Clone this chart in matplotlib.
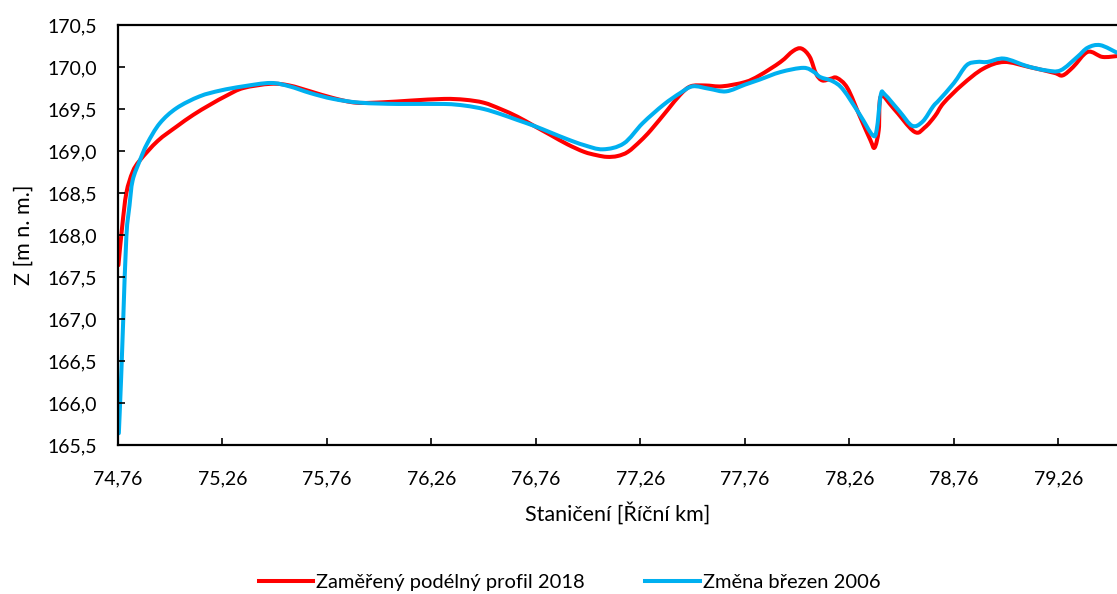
import matplotlib

matplotlib.use("Agg")

import matplotlib.pyplot as plt
from matplotlib.lines import Line2D
from matplotlib.patches import PathPatch
from matplotlib.path import Path
from matplotlib.ticker import FixedLocator, FuncFormatter

plt.rcParams["font.family"] = ["Lato", "DejaVu Sans"]

# river stationing [km] and bed elevation [m n. m.]
km_2018 = [74.762, 74.78, 74.80, 74.83, 74.865, 74.95, 75.04, 75.12, 75.20, 75.28, 75.36, 75.49,
           75.58, 75.68, 75.79, 75.90, 76.03, 76.16, 76.32, 76.42, 76.51, 76.59, 76.67, 76.75,
           76.83, 76.91, 76.99, 77.05, 77.10, 77.15, 77.20, 77.26, 77.31, 77.39, 77.45, 77.50,
           77.57, 77.65, 77.76, 77.83, 77.93, 77.99, 78.03, 78.07, 78.10, 78.13, 78.17, 78.20,
           78.25, 78.31, 78.36, 78.38, 78.40, 78.41, 78.47, 78.57, 78.62, 78.67, 78.71, 78.80,
           78.90, 79.00, 79.12, 79.24, 79.28, 79.33, 79.40, 79.47, 79.54]
z_2018 = [167.64, 168.10, 168.50, 168.75, 168.89, 169.12, 169.29, 169.43, 169.55, 169.66, 169.75, 169.80,
          169.78, 169.71, 169.63, 169.575, 169.58, 169.60, 169.62, 169.61, 169.575, 169.50, 169.41, 169.30,
          169.19, 169.08, 168.99, 168.95, 168.93, 168.94, 168.99, 169.12, 169.25, 169.49, 169.67, 169.77,
          169.78, 169.77, 169.82, 169.90, 170.06, 170.19, 170.22, 170.12, 169.92, 169.84, 169.86, 169.87,
          169.75, 169.41, 169.13, 169.04, 169.25, 169.65, 169.51, 169.23, 169.28, 169.42, 169.57, 169.79,
          169.98, 170.06, 170.00, 169.93, 169.90, 170.00, 170.18, 170.12, 170.13]

km_2006 = [74.764, 74.775, 74.785, 74.80, 74.815, 74.83, 74.865, 74.90, 74.96, 75.04, 75.15, 75.25,
           75.36, 75.49, 75.58, 75.68, 75.79, 75.92, 76.10, 76.32, 76.42, 76.51, 76.59, 76.67,
           76.75, 76.83, 76.91, 76.99, 77.08, 77.18, 77.27, 77.37, 77.45, 77.51, 77.59, 77.67,
           77.76, 77.83, 77.93, 78.04, 78.09, 78.12, 78.18, 78.23, 78.31, 78.37, 78.39, 78.41,
           78.43, 78.50, 78.56, 78.61, 78.66, 78.69, 78.76, 78.82, 78.87, 78.92, 79.00, 79.11,
           79.20, 79.27, 79.35, 79.40, 79.46, 79.54]
z_2006 = [165.64, 166.30, 166.99, 167.98, 168.35, 168.65, 168.89, 169.09, 169.33, 169.51, 169.65, 169.72,
          169.77, 169.81, 169.77, 169.69, 169.62, 169.575, 169.56, 169.56, 169.54, 169.50, 169.44, 169.37,
          169.30, 169.22, 169.14, 169.07, 169.02, 169.09, 169.33, 169.55, 169.69, 169.77, 169.74, 169.71,
          169.79, 169.85, 169.94, 169.99, 169.94, 169.88, 169.83, 169.73, 169.43, 169.19, 169.25, 169.67,
          169.67, 169.47, 169.30, 169.35, 169.53, 169.61, 169.81, 170.02, 170.06, 170.06, 170.10, 170.01,
          169.96, 169.96, 170.12, 170.23, 170.26, 170.17]

x_ticks = [74.76, 75.26, 75.76, 76.26, 76.76, 77.26, 77.76, 78.26, 78.76, 79.26]
y_ticks = [165.5, 166.0, 166.5, 167.0, 167.5, 168.0, 168.5, 169.0, 169.5, 170.0, 170.5]

RED = "#FF0000"
BLUE = "#00B0F0"
LW = 2.9


def smooth_path(xs, ys):
    """Bezier path through the points, like a spreadsheet 'smoothed line'."""
    pts = list(zip(xs, ys))
    verts = [pts[0]]
    codes = [Path.MOVETO]
    n = len(pts)
    for i in range(n - 1):
        p0 = pts[max(i - 1, 0)]
        p1 = pts[i]
        p2 = pts[i + 1]
        p3 = pts[min(i + 2, n - 1)]
        c1 = (p1[0] + (p2[0] - p0[0]) / 6, p1[1] + (p2[1] - p0[1]) / 6)
        c2 = (p2[0] - (p3[0] - p1[0]) / 6, p2[1] - (p3[1] - p1[1]) / 6)
        verts += [c1, c2, p2]
        codes += [Path.CURVE4] * 3
    return Path(verts, codes)


fig = plt.figure(figsize=(11.17, 5.94), dpi=100)
ax = fig.add_axes([118 / 1117, 1 - 445 / 594, 1 - 118 / 1117, (445 - 25) / 594])

for xs, ys, color in ((km_2018, z_2018, RED), (km_2006, z_2006, BLUE)):
    ax.add_patch(PathPatch(smooth_path(xs, ys), facecolor="none", edgecolor=color, lw=LW,
                           joinstyle="round", capstyle="round", clip_on=True))

ax.set_xlim(74.76, 79.54)
ax.set_ylim(165.5, 170.5)
ax.xaxis.set_major_locator(FixedLocator(x_ticks))
ax.yaxis.set_major_locator(FixedLocator(y_ticks))
ax.xaxis.set_major_formatter(FuncFormatter(lambda v, p: f"{v:.2f}".replace(".", ",")))
ax.yaxis.set_major_formatter(FuncFormatter(lambda v, p: f"{v:.1f}".replace(".", ",")))
ax.tick_params(axis="both", direction="in", length=5, width=1.2, labelsize=14, colors="black")
ax.tick_params(axis="x", pad=18)
ax.tick_params(axis="y", pad=15)

for side in ("left", "bottom", "top"):
    ax.spines[side].set_color("black")
    ax.spines[side].set_linewidth(1.6)
ax.spines["right"].set_visible(False)

ax.set_xlabel("Staničení [Říční km]", fontsize=15.5, labelpad=11)
ax.set_ylabel("Z [m n. m.]", fontsize=15.5, labelpad=10)

handles = [Line2D([0], [0], color=RED, lw=LW, label="Zaměřený podélný profil 2018"),
           Line2D([0], [0], color=BLUE, lw=LW, label="Změna březen 2006")]
fig.legend(handles=handles, loc="lower center", bbox_to_anchor=(0.51, -0.025), ncol=2, frameon=False,
           fontsize=14.5, handlelength=2.7, handletextpad=0.15, columnspacing=3.0)

fig.savefig("out.png", dpi=100)
